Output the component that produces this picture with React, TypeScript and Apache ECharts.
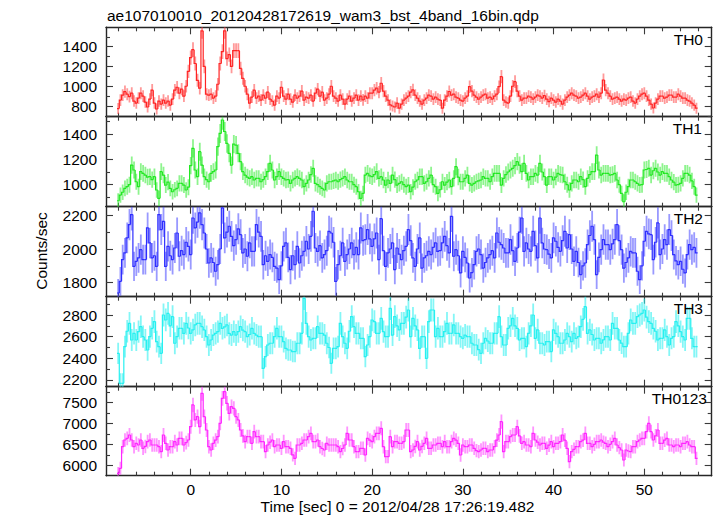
import React, { useEffect, useRef } from "react";
import * as echarts from "echarts";

// ---------- text ----------
const TITLE = "ae107010010_20120428172619_wam3_bst_4band_16bin.qdp";
const X_TITLE = "Time [sec] 0 = 2012/04/28 17:26:19.482";
const Y_TITLE = "Counts/sec";
const BAND_NAMES = ["TH0", "TH1", "TH2", "TH3", "TH0123"];

// ---------- time bins ----------
const T_START = -8;
const BIN_WIDTH = 0.25;

// ---------- axes ----------
const X_MIN = -9.34;
const X_MAX = 57.43;
const X_MAJOR = [0, 10, 20, 30, 40, 50];
const X_MINOR = [-8, -6, -4, -2, 2, 4, 6, 8, 12, 14, 16, 18, 22, 24, 26, 28, 32, 34, 36, 38, 42, 44, 46, 48, 52, 54, 56];
const Y_MIN = [692, 826, 1717, 2138, 5752];
const Y_MAX = [1596, 1537, 2251, 2969, 7871];
const Y_MAJOR = [
  [800, 1000, 1200, 1400],
  [1000, 1200, 1400],
  [1800, 2000, 2200],
  [2200, 2400, 2600, 2800],
  [6000, 6500, 7000, 7500],
];
const Y_MINOR = [
  [700, 900, 1100, 1300, 1500],
  [900, 1100, 1300, 1500],
  [1900, 2100],
  [2300, 2500, 2700, 2900],
  [6250, 6750, 7250, 7750],
];

// ---------- count rates (counts/sec), 0.25 s bins from t = -8 ----------
const TH0 = [
  774, 860, 910, 945, 920, 895, 930, 850, 830, 880, 930, 900, 840, 790, 870, 960,
  830, 770, 850, 820, 860, 830, 850, 810, 870, 960, 990, 930, 970, 900, 1000, 1150,
  1290, 1370, 1230, 1060, 980, 1560, 1200, 920, 910, 920, 880, 900, 1020, 1230, 1350, 1560,
  1280, 1320, 1200, 1360, 1360, 1360, 1180, 1080, 1000, 920, 830, 890, 960, 880, 900, 860,
  910, 880, 940, 870, 850, 810, 900, 880, 990, 900, 870, 920, 870, 840, 910, 880,
  900, 950, 860, 890, 880, 910, 850, 930, 970, 900, 940, 860, 880, 920, 1000, 900,
  880, 850, 910, 870, 820, 870, 900, 850, 880, 910, 860, 900, 862, 900, 880, 930,
  930, 960, 980, 940, 1030, 950, 900, 860, 812, 800, 790, 830, 778, 820, 860, 880,
  900, 940, 963, 910, 880, 850, 820, 860, 880, 910, 900, 870, 890, 870, 860, 778,
  860, 900, 947, 910, 920, 890, 880, 860, 850, 880, 900, 996, 950, 910, 890, 870,
  890, 910, 920, 880, 890, 870, 900, 920, 996, 1097, 860, 840, 830, 900, 1000, 1046,
  950, 900, 860, 880, 880, 900, 890, 870, 890, 910, 900, 880, 905, 870, 845, 880,
  860, 840, 870, 850, 820, 860, 890, 910, 930, 910, 900, 880, 890, 910, 930, 900,
  870, 890, 900, 920, 890, 930, 1063, 960, 930, 900, 870, 880, 890, 870, 850, 870,
  860, 880, 890, 850, 830, 870, 900, 920, 930, 900, 860, 820, 780, 830, 870, 900,
  900, 880, 890, 910, 910, 890, 890, 920, 900, 880, 880, 860, 850, 830, 810, 778,
];

const TH1 = [
  873, 918, 940, 971, 984, 1000, 1155, 1116, 1023, 984, 1103, 1089, 1076, 1060, 1063, 1040,
  1063, 958, 892, 1103, 1076, 997, 1020, 971, 944, 960, 971, 1010, 1010, 997, 958, 980,
  1150, 1287, 1116, 1063, 1261, 1155, 1063, 1040, 1023, 1089, 1103, 1116, 1300, 1405, 1511, 1420,
  1326, 1248, 1155, 1320, 1313, 1248, 1182, 1103, 1076, 1060, 1050, 1063, 1037, 1050, 1050, 1023,
  1040, 1063, 1103, 1168, 1116, 1037, 1063, 1103, 1063, 1050, 1037, 1040, 1010, 1037, 1050, 1063,
  1050, 1037, 984, 1010, 1037, 1080, 1129, 1010, 1000, 984, 970, 958, 1010, 1023, 1023, 1030,
  1037, 1023, 1040, 1050, 1063, 1037, 1023, 1023, 1000, 984, 944, 892, 931, 1076, 1089, 1070,
  1063, 1080, 1103, 1050, 1063, 1037, 997, 1037, 1010, 1076, 1040, 997, 1010, 1023, 1000, 984,
  997, 944, 980, 1023, 1037, 1063, 1063, 1010, 1023, 1050, 1076, 1000, 984, 931, 960, 1023,
  997, 1020, 1037, 984, 1050, 1142, 1060, 1023, 1023, 1050, 1076, 1010, 997, 1010, 1023, 1030,
  1037, 1063, 1050, 1050, 1023, 1063, 1089, 1089, 1089, 997, 1050, 1080, 1100, 1116, 1129, 1150,
  1182, 1155, 1103, 1168, 1089, 1037, 1063, 1063, 1089, 1076, 1168, 1100, 1063, 997, 1063, 1063,
  1037, 1060, 1089, 1080, 1076, 1023, 1000, 958, 1010, 1037, 1037, 1023, 1063, 1040, 984, 1050,
  1080, 1103, 1103, 1234, 1116, 1076, 1089, 1089, 1089, 1076, 1080, 1089, 1037, 1000, 931, 865,
  940, 984, 1037, 1037, 1023, 1010, 997, 1000, 1116, 1120, 1129, 1076, 1110, 1129, 1100, 1076,
  1103, 1089, 1089, 1063, 1037, 1020, 997, 1000, 1010, 1050, 1089, 1089, 1076, 1030, 984, 918,
];

const TH2 = [
  1739, 1808, 1937, 1977, 2066, 2145, 2204, 1897, 1927, 1947, 1996, 1937, 1937, 2125, 2036, 1947,
  1960, 1897, 2204, 2115, 2164, 1897, 2016, 1960, 1937, 2006, 2095, 1957, 1990, 1967, 2040, 2016,
  1967, 2184, 2125, 2160, 2214, 2145, 2095, 2000, 1917, 1947, 1920, 1868, 1907, 2000, 2244, 2066,
  2100, 2135, 2075, 2020, 2056, 2120, 2085, 1977, 2000, 1957, 2036, 1986, 1986, 2145, 2100, 2075,
  1907, 1960, 1927, 1967, 1950, 1897, 1887, 1818, 1900, 2016, 2036, 1950, 1878, 1960, 1907, 2016,
  1917, 1960, 1986, 2046, 2000, 2075, 2224, 2006, 1986, 2020, 1947, 1967, 1990, 2105, 2095, 2040,
  1808, 1907, 1960, 2036, 1927, 1967, 2000, 2036, 1967, 2010, 1967, 2125, 2050, 2056, 2115, 2060,
  2016, 2060, 2095, 1937, 2180, 1990, 1897, 1977, 2000, 2036, 1878, 2006, 1970, 1937, 1990, 2016,
  2115, 2050, 1947, 1897, 2000, 2066, 1887, 1947, 1960, 1986, 1967, 2010, 2036, 1986, 1990, 2036,
  2075, 2020, 1977, 2194, 1957, 1996, 1960, 1858, 1986, 1950, 1917, 1828, 1860, 1907, 1986, 2000,
  1967, 1887, 1920, 1947, 1967, 1990, 1947, 2095, 2040, 2026, 2006, 1977, 1977, 2056, 1990, 1927,
  2006, 2100, 2184, 1986, 2036, 2000, 1986, 2105, 2020, 1947, 2184, 2036, 2000, 1996, 1970, 1947,
  2066, 2046, 2010, 1986, 2050, 2105, 2006, 2085, 2000, 1927, 1986, 1920, 1848, 1900, 1917, 2026,
  2080, 2135, 2056, 1848, 1950, 1996, 2056, 2026, 2026, 1996, 2030, 2056, 2145, 2050, 1996, 1887,
  1920, 1947, 1986, 1977, 1977, 1868, 1818, 1900, 2046, 2105, 2090, 2085, 1937, 2040, 2155, 1967,
  2000, 2056, 2026, 2115, 2080, 1967, 1930, 1907, 1927, 1880, 1858, 1967, 2026, 1996, 2010, 1977,
];

const TH3 = [
  2446, 2169, 2169, 2508, 2650, 2723, 2569, 2631, 2569, 2646, 2692, 2600, 2569, 2477, 2600, 2677,
  2739, 2554, 2508, 2446, 2800, 2754, 2815, 2700, 2785, 2539, 2600, 2677, 2677, 2631, 2723, 2680,
  2631, 2662, 2708, 2723, 2723, 2692, 2662, 2600, 2523, 2569, 2615, 2630, 2646, 2723, 2677, 2690,
  2708, 2631, 2615, 2646, 2615, 2646, 2692, 2660, 2646, 2600, 2620, 2677, 2631, 2615, 2600, 2600,
  2308, 2416, 2523, 2539, 2539, 2600, 2677, 2600, 2600, 2554, 2492, 2477, 2477, 2462, 2462, 2539,
  2539, 2631, 2954, 2723, 2600, 2569, 2585, 2585, 2692, 2631, 2631, 2615, 2539, 2500, 2354, 2492,
  2492, 2508, 2723, 2600, 2539, 2492, 2650, 2785, 2692, 2631, 2631, 2585, 2585, 2416, 2523, 2600,
  2754, 2739, 2631, 2631, 2769, 2646, 2600, 2600, 2862, 2615, 2785, 2700, 2662, 2723, 2723, 2780,
  2846, 2600, 2769, 2700, 2662, 2492, 2600, 2600, 2400, 2739, 2846, 2846, 2600, 2677, 2600, 2600,
  2646, 2723, 2631, 2631, 2708, 2631, 2631, 2600, 2585, 2615, 2600, 2600, 2539, 2523, 2523, 2480,
  2446, 2539, 2585, 2560, 2539, 2539, 2631, 2631, 2785, 2600, 2523, 2523, 2677, 2700, 2769, 2700,
  2677, 2569, 2585, 2585, 2508, 2631, 2700, 2800, 2585, 2662, 2539, 2539, 2523, 2554, 2554, 2462,
  2662, 2631, 2600, 2539, 2539, 2569, 2631, 2600, 2554, 2631, 2585, 2600, 2692, 2760, 2877, 2631,
  2662, 2620, 2569, 2585, 2585, 2539, 2570, 2600, 2600, 2569, 2723, 2677, 2677, 2569, 2540, 2508,
  2508, 2631, 2754, 2723, 2723, 2785, 2800, 2815, 2846, 2780, 2739, 2723, 2677, 2650, 2569, 2585,
  2585, 2662, 2600, 2523, 2585, 2600, 2739, 2700, 2646, 2600, 2569, 2769, 2769, 2585, 2508, 2508,
];

const TH0123 = [
  5809, 5928, 6444, 6602, 6642, 6721, 6602, 6444, 6523, 6483, 6602, 6404, 6450, 6563, 6602, 6483,
  6483, 6483, 6444, 6325, 6721, 6523, 6364, 6444, 6444, 6563, 6483, 6642, 6642, 6483, 6540, 6602,
  6920, 7436, 7079, 7158, 6920, 7714, 7158, 6840, 6444, 6364, 6523, 6600, 6682, 7000, 7594, 7753,
  7475, 7237, 7396, 7356, 7158, 7079, 6840, 6700, 6563, 6682, 6682, 6523, 6801, 6682, 6682, 6563,
  6563, 6325, 6483, 6550, 6602, 6444, 6483, 6483, 6404, 6563, 6444, 6444, 6404, 6250, 6166, 6483,
  6483, 6523, 6602, 6602, 6682, 6761, 6563, 6563, 6602, 6444, 6400, 6364, 6523, 6483, 6483, 6483,
  6483, 6444, 6325, 6400, 6483, 6761, 6602, 6602, 6444, 6325, 6325, 6404, 6404, 6245, 6642, 6600,
  6563, 6682, 6761, 6761, 6880, 6444, 6206, 6206, 6682, 6444, 6563, 6563, 6523, 6523, 6563, 6840,
  6840, 6325, 6364, 6450, 6563, 6364, 6450, 6523, 6642, 6404, 6404, 6483, 6483, 6523, 6523, 6444,
  6563, 6444, 6444, 6563, 6642, 6600, 6523, 6245, 6483, 6444, 6444, 6483, 6483, 6404, 6350, 6325,
  6364, 6404, 6404, 6325, 6364, 6364, 6444, 6600, 6721, 7039, 6325, 6563, 6563, 6682, 6721, 6721,
  6920, 6700, 6523, 6563, 6483, 6483, 6444, 6761, 6602, 6550, 6483, 6523, 6523, 6404, 6480, 6563,
  6444, 6523, 6523, 6563, 6721, 6600, 6404, 6087, 6325, 6380, 6444, 6444, 6563, 6600, 6761, 6523,
  6523, 6444, 6500, 6563, 6563, 6602, 6550, 6523, 6444, 6500, 6563, 6642, 6483, 6420, 6364, 6126,
  6364, 6340, 6325, 6444, 6444, 6563, 6602, 6642, 6642, 6800, 7000, 6801, 6602, 6700, 6840, 6523,
  6523, 6600, 6642, 6483, 6483, 6444, 6483, 6483, 6444, 6523, 6523, 6563, 6483, 6444, 6444, 6166,
];

const SERIES_VALUES = [TH0, TH1, TH2, TH3, TH0123];

// ---------- styles ----------
const LINE_COLORS = ["#ff2424", "#22e822", "#2e2eff", "#26f0f0", "#ff26ff"];
const BAR_COLORS = [
  "rgba(255,70,70,0.55)",
  "rgba(50,235,50,0.55)",
  "rgba(70,70,255,0.55)",
  "rgba(50,240,240,0.6)",
  "rgba(255,60,255,0.55)",
];
const FONT = '"Liberation Sans", Arial, Helvetica, sans-serif';
const FS = 15.5;
const GRID_TOPS = [27.3, 116.7, 206.7, 296.7, 386.7];
const GRID_HEIGHTS = [89.4, 90, 90, 90, 89];
const GRID_LEFT = 106;
const GRID_RIGHT = 5.3;
const BAND_LABEL_Y = [39, 128, 218, 308, 398];
const BAND_LABEL_X = [703, 702, 703, 703, 707];
const FRAME = "#262626";
const TICK = "#3a3a3a";

function buildOption() {
  const grids: any[] = [];
  const xAxes: any[] = [];
  const yAxes: any[] = [];
  const series: any[] = [];
  const times = TH0.map((_, i) => T_START + i * BIN_WIDTH);
  const plain = (v: number) => String(v);

  for (let g = 0; g < 5; g++) {
    grids.push({
      left: GRID_LEFT,
      right: GRID_RIGHT,
      top: GRID_TOPS[g],
      height: GRID_HEIGHTS[g],
      containLabel: false,
      outerBoundsMode: "none",
    });
    const isLast = g === 4;
    const xBase = (position: string, ticks: number[], len: number, line: boolean, label: boolean) => ({
      type: "value",
      gridIndex: g,
      position,
      min: X_MIN,
      max: X_MAX,
      splitLine: { show: false },
      axisLine: { show: line, onZero: false, lineStyle: { color: FRAME, width: 1.4 } },
      axisTick: { show: true, inside: true, length: len, customValues: ticks, lineStyle: { color: TICK, width: 1.1 } },
      axisLabel: label
        ? { show: true, customValues: X_MAJOR, formatter: plain, color: "#000", fontSize: FS, fontFamily: FONT, margin: 6 }
        : { show: false },
    });
    xAxes.push(xBase("bottom", X_MAJOR, 7, true, isLast));
    xAxes.push(xBase("bottom", X_MINOR, 4, false, false));
    xAxes.push(xBase("top", X_MAJOR, 7, true, false));
    xAxes.push(xBase("top", X_MINOR, 4, false, false));

    const yBase = (position: string, ticks: number[], len: number, line: boolean, label: boolean) => ({
      type: "value",
      gridIndex: g,
      position,
      min: Y_MIN[g],
      max: Y_MAX[g],
      splitLine: { show: false },
      axisLine: { show: line, onZero: false, lineStyle: { color: FRAME, width: 1.4 } },
      axisTick: { show: true, inside: true, length: len, customValues: ticks, lineStyle: { color: TICK, width: 1.1 } },
      axisLabel: label
        ? { show: true, customValues: Y_MAJOR[g], formatter: plain, color: "#000", fontSize: FS, fontFamily: FONT, margin: 9 }
        : { show: false },
    });
    yAxes.push(yBase("left", Y_MAJOR[g], 7, true, true));
    yAxes.push(yBase("left", Y_MINOR[g], 4, false, false));
    yAxes.push(yBase("right", Y_MAJOR[g], 7, true, false));
    yAxes.push(yBase("right", Y_MINOR[g], 4, false, false));

    const vals = SERIES_VALUES[g];
    const lineColor = LINE_COLORS[g];
    const barColor = BAR_COLORS[g];
    series.push({
      type: "custom",
      xAxisIndex: g * 4,
      yAxisIndex: g * 4,
      clip: true,
      silent: true,
      data: vals.map((v, i) => [times[i], v]),
      renderItem: (params: any, api: any) => {
        const idx = params.dataIndex;
        const t = api.value(0);
        const v = api.value(1);
        const prev = idx > 0 ? vals[idx - 1] : v;
        const err = Math.sqrt(v / BIN_WIDTH);
        const top = api.coord([t, v + err]);
        const bot = api.coord([t, v - err]);
        const p0 = api.coord([t - BIN_WIDTH / 2, prev]);
        const l = api.coord([t - BIN_WIDTH / 2, v]);
        const r = api.coord([t + BIN_WIDTH / 2, v]);
        return {
          type: "group",
          children: [
            { type: "line", shape: { x1: top[0], y1: top[1], x2: bot[0], y2: bot[1] }, style: { stroke: barColor, lineWidth: 1.8 } },
            { type: "polyline", shape: { points: [p0, l, r] }, style: { stroke: lineColor, lineWidth: 1.2, fill: "none" } },
          ],
        };
      },
    });
  }

  const graphic: any[] = [
    { type: "text", x: 107, y: 15.5, style: { text: TITLE, fill: "#000", fontSize: FS, fontFamily: FONT, align: "left", verticalAlign: "middle" } },
    { type: "text", x: 397.5, y: 506, style: { text: X_TITLE, fill: "#000", fontSize: FS, fontFamily: FONT, align: "center", verticalAlign: "middle" } },
    { type: "text", x: 41, y: 251, rotation: Math.PI / 2, style: { text: Y_TITLE, fill: "#000", fontSize: FS, fontFamily: FONT, align: "center", verticalAlign: "middle" } },
  ];
  BAND_NAMES.forEach((name, g) => {
    graphic.push({
      type: "text",
      x: BAND_LABEL_X[g],
      y: BAND_LABEL_Y[g],
      z: 10,
      style: { text: name, fill: "#000", fontSize: FS, fontFamily: FONT, align: "right", verticalAlign: "middle" },
    });
  });

  return {
    animation: false,
    backgroundColor: "#ffffff",
    grid: grids,
    xAxis: xAxes,
    yAxis: yAxes,
    series,
    graphic,
  };
}

export default function App() {
  const ref = useRef<HTMLDivElement>(null);
  useEffect(() => {
    if (!ref.current) return;
    const chart = echarts.init(ref.current, undefined, { renderer: "svg" });
    chart.setOption(buildOption() as any);
    return () => chart.dispose();
  }, []);
  return (
    <div
      ref={ref}
      style={{ position: "absolute", left: 0, top: 0, width: 717, height: 516, background: "#fff" }}
    />
  );
}
